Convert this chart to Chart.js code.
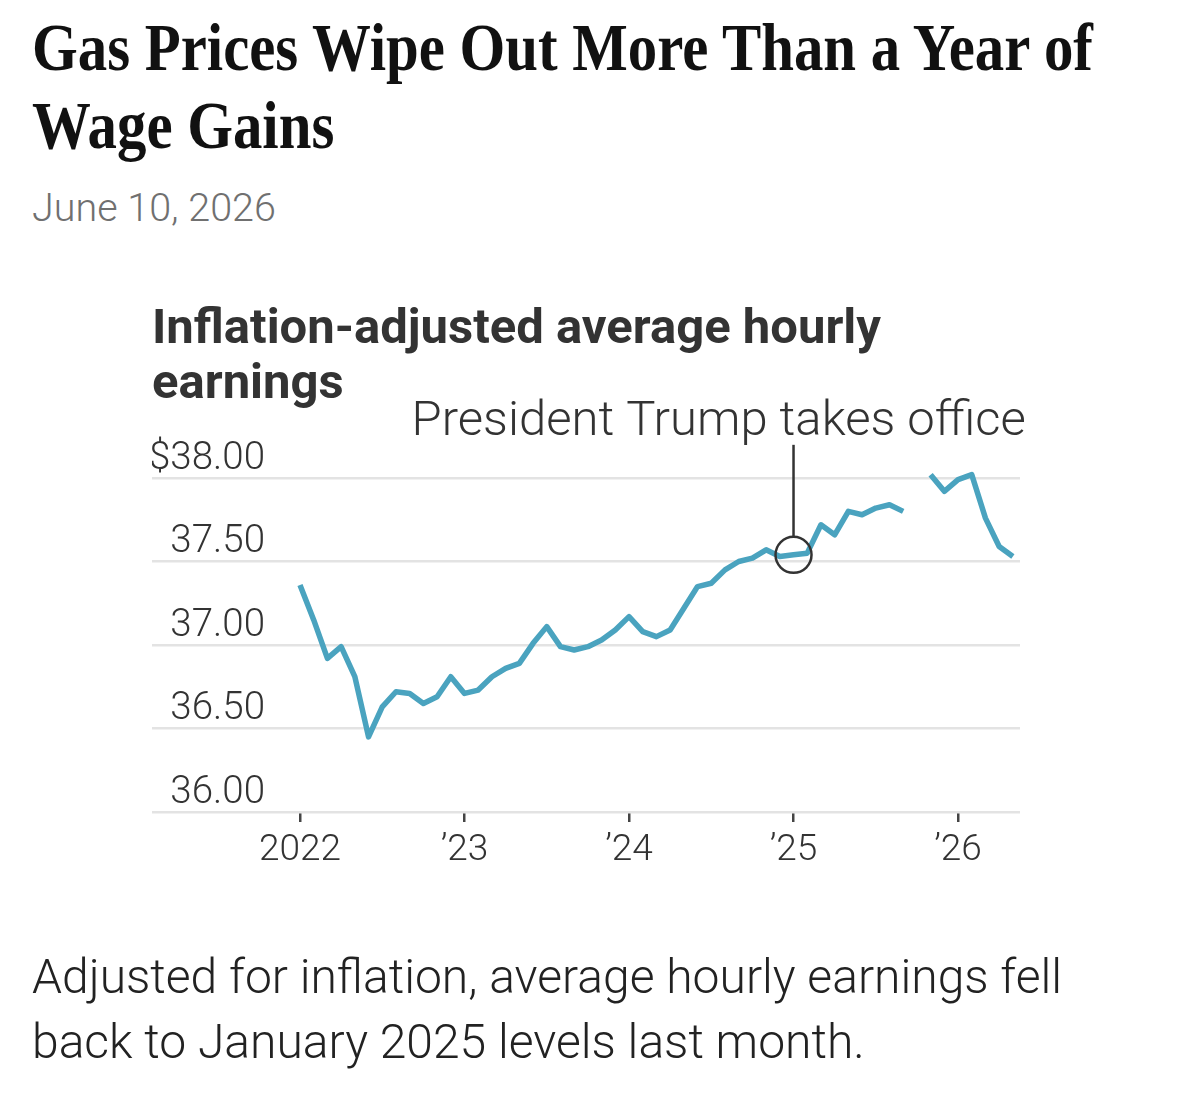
<!DOCTYPE html>
<html>
<head>
<meta charset="utf-8">
<script src="https://cdn.jsdelivr.net/npm/chart.js@4.4.1/dist/chart.umd.min.js"></script>
<style>
  html, body { margin: 0; padding: 0; background: #fff; }
  body { width: 1179px; height: 1113px; position: relative; overflow: hidden; }
  .headline {
    position: absolute; left: 32px; top: 8px; width: 1400px;
    font-family: "Liberation Serif", serif; font-weight: bold; font-size: 68px;
    line-height: 78px; color: #111; transform: scaleX(0.865); transform-origin: left top;
  }
  .date {
    position: absolute; left: 32px; top: 184px;
    font-family: Roboto, sans-serif; font-weight: 300; font-size: 39.5px; color: #707070;
  }
  .dek {
    position: absolute; left: 32px; top: 944px; width: 1140px;
    font-family: Roboto, sans-serif; font-weight: 300; font-size: 48px;
    line-height: 65px; color: #222;
  }
  canvas { position: absolute; left: 0; top: 0; }
</style>
</head>
<body>
<div class="headline">Gas Prices Wipe Out More Than a Year of<br>Wage Gains</div>
<div class="date">June 10, 2026</div>
<div style="position:absolute;left:0;top:0;width:1179px;height:1113px;">
  <canvas id="wageChart"></canvas>
</div>
<div class="dek">Adjusted for inflation, average hourly earnings fell<br>back to January 2025 levels last month.</div>
<script>
// monthly, Jan 2022 - May 2026 (Oct 2025 missing)
const months = [
  "Jan 2022", "Feb 2022", "Mar 2022", "Apr 2022", "May 2022", "Jun 2022",
  "Jul 2022", "Aug 2022", "Sep 2022", "Oct 2022", "Nov 2022", "Dec 2022",
  "Jan 2023", "Feb 2023", "Mar 2023", "Apr 2023", "May 2023", "Jun 2023",
  "Jul 2023", "Aug 2023", "Sep 2023", "Oct 2023", "Nov 2023", "Dec 2023",
  "Jan 2024", "Feb 2024", "Mar 2024", "Apr 2024", "May 2024", "Jun 2024",
  "Jul 2024", "Aug 2024", "Sep 2024", "Oct 2024", "Nov 2024", "Dec 2024",
  "Jan 2025", "Feb 2025", "Mar 2025", "Apr 2025", "May 2025", "Jun 2025",
  "Jul 2025", "Aug 2025", "Sep 2025", "Oct 2025", "Nov 2025", "Dec 2025",
  "Jan 2026", "Feb 2026", "Mar 2026", "Apr 2026", "May 2026",
];
const earnings = [
  37.36, 37.15, 36.92, 36.99, 36.81, 36.45, 36.63, 36.72, 36.71, 36.65, 36.69, 36.81,
  36.71, 36.73, 36.81, 36.86, 36.89, 37.01, 37.11, 36.99, 36.97, 36.99, 37.03, 37.09,
  37.17, 37.08, 37.05, 37.09, 37.22, 37.35, 37.37, 37.45, 37.50, 37.52, 37.57, 37.53,
  37.54, 37.55, 37.72, 37.66, 37.80, 37.78, 37.82, 37.84, 37.80, null, 38.02, 37.92,
  37.99, 38.02, 37.76, 37.59, 37.53,
];
const yearTickIndex = [0, 12, 24, 36, 48];
const yearTickLabels = ["2022", "\u201923", "\u201924", "\u201925", "\u201926"];
const yTickValues = [36, 36.5, 37, 37.5, 38];
const yTickLabels = ["36.00", "36.50", "37.00", "37.50", "$38.00"];
const markIndex = months.indexOf("Jan 2025");
const markText = "President Trump takes office";

const lineColor = "#4aa3bf";
const gridColor = "#e3e3e3";

const annotationPlugin = {
  id: "annotation",
  afterDatasetsDraw(chart) {
    const { ctx, scales } = chart;
    const px = scales.x.getPixelForValue(markIndex);
    const py = scales.y.getPixelForValue(earnings[markIndex]);
    ctx.save();
    ctx.strokeStyle = "#333";
    ctx.lineWidth = 2.5;
    ctx.beginPath();
    ctx.arc(px, py, 18, 0, Math.PI * 2);
    ctx.stroke();
    ctx.beginPath();
    ctx.moveTo(px, py - 18);
    ctx.lineTo(px, py - 110);
    ctx.stroke();
    ctx.fillStyle = "#333";
    ctx.font = "300 49px Roboto";
    ctx.textAlign = "left";
    ctx.textBaseline = "alphabetic";
    ctx.fillText(markText, px - 382, py - 120);
    ctx.font = "bold 49px Roboto";
    ctx.fillText("Inflation-adjusted average hourly", 152, 343);
    ctx.fillText("earnings", 152, 398);
    ctx.restore();
  },
};

const ctx = document.getElementById("wageChart").getContext("2d");
const wageChart = new Chart(ctx, {
  type: "line",
  data: {
    datasets: [
      {
        label: "Inflation-adjusted average hourly earnings",
        data: earnings.map((v, i) => ({ x: i, y: v })),
        borderColor: lineColor,
        borderWidth: 5.5,
        pointRadius: 0,
        tension: 0,
        spanGaps: false,
        clip: false,
        borderJoinStyle: "round",
      },
    ],
  },
  options: {
    responsive: true,
    maintainAspectRatio: false,
    animation: false,
    layout: { padding: { left: 152, right: 159, top: 478, bottom: 241 } },
    plugins: { legend: { display: false }, tooltip: { enabled: false } },
    scales: {
      x: {
        type: "linear",
        min: -2.188,
        max: 52.52,
        afterBuildTicks(scale) {
          scale.ticks = yearTickIndex.map((v) => ({ value: v }));
        },
        afterFit(scale) {
          scale.height = 60;
        },
        border: { display: false },
        grid: {
          drawOnChartArea: false,
          drawTicks: true,
          tickLength: 10,
          color: "#444",
          lineWidth: 2.5,
        },
        ticks: {
          autoSkip: false,
          maxRotation: 0,
          padding: 7,
          color: "#333",
          font: { family: "Roboto", size: 37, weight: "300" },
          callback: (v) => yearTickLabels[yearTickIndex.indexOf(v)],
        },
      },
      y: {
        min: 36,
        max: 38,
        afterBuildTicks(scale) {
          scale.ticks = yTickValues.map((v) => ({ value: v }));
        },
        afterFit(scale) {
          scale.width = 118;
        },
        border: { display: false },
        // tick marks run under the labels so the gridlines reach the left edge
        grid: { color: gridColor, lineWidth: 2.5, drawTicks: true, tickLength: 118 },
        ticks: {
          crossAlign: "near",
          padding: -113,
          labelOffset: -19,
          color: "#333",
          font: { family: "Roboto", size: 38.5, weight: "300" },
          callback: (v) => yTickLabels[yTickValues.indexOf(v)],
        },
      },
    },
  },
  plugins: [annotationPlugin],
});
</script>
</body>
</html>
